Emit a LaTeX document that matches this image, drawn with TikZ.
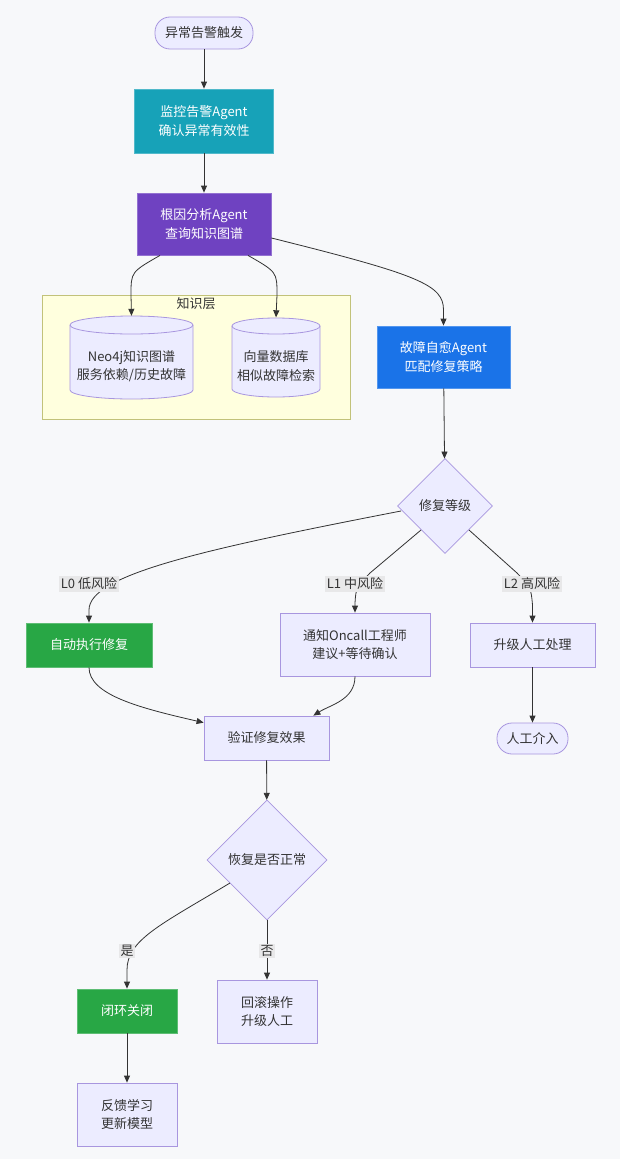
\documentclass[tikz,border=0pt]{standalone}
\usepackage{fontspec}
\setmainfont{Noto Sans CJK SC}
\usetikzlibrary{shapes.geometric,arrows.meta}
\definecolor{bgc}{HTML}{F7F8FA}
\definecolor{nfill}{HTML}{ECECFF}
\definecolor{nstroke}{HTML}{A896DF}
\definecolor{txt}{HTML}{333333}
\definecolor{edgec}{HTML}{333333}
\definecolor{lblbg}{HTML}{E8E8E9}
\definecolor{teal}{HTML}{17A2B8}
\definecolor{purp}{HTML}{6F42C1}
\definecolor{blu}{HTML}{1A73E8}
\definecolor{grn}{HTML}{28A745}
\definecolor{sgfill}{HTML}{FFFFDE}
\definecolor{sgstroke}{HTML}{C2C27A}
\begin{document}
\begin{tikzpicture}[x=1pt,y=1pt,
  every node/.style={font=\fontsize{13}{18.5}\selectfont, text=txt, align=center, inner sep=0pt},
  box/.style={rectangle, draw=nstroke, fill=nfill, line width=0.8pt},
  stadium/.style={rectangle, rounded corners=15pt, draw=nstroke, fill=nfill, line width=0.8pt},
  colbox/.style={rectangle, draw=#1!75!white, fill=#1, text=white, line width=0.8pt},
  decision/.style={diamond, aspect=1, draw=nstroke, fill=nfill, line width=0.8pt},
  textonly/.style={rectangle, draw=none},
  flow/.style={draw=edgec, line width=0.8pt, -{Triangle[length=7pt,width=6pt]}},
  lbl/.style={fill=lblbg, inner xsep=1.5pt, inner ysep=1.5pt},
  cylfill/.style={fill=nfill, draw=nstroke, line width=0.8pt}
]
\fill[bgc] (0,0) rectangle (620,-1159);
\useasboundingbox (0,0) rectangle (620,-1159);

% subgraph
\filldraw[fill=sgfill, draw=sgstroke, line width=0.8pt] (42.5,-295) rectangle (350,-419);
\node (sglabel) at (196,-304) {知识层};

% cylinders
\filldraw[cylfill] (70,-325) -- (70,-390) arc[start angle=180, end angle=360, x radius=61.5, y radius=9] -- (193,-325) arc[start angle=0, end angle=180, x radius=61.5, y radius=9] -- cycle;
\draw[nstroke, line width=0.8pt] (70,-325) arc[start angle=180, end angle=360, x radius=61.5, y radius=9];
\filldraw[cylfill] (232,-326) -- (232,-389) arc[start angle=180, end angle=360, x radius=44, y radius=8] -- (320,-326) arc[start angle=0, end angle=180, x radius=44, y radius=8] -- cycle;
\draw[nstroke, line width=0.8pt] (232,-326) arc[start angle=180, end angle=360, x radius=44, y radius=8];
\node[textonly, minimum width=123pt, minimum height=83pt] (neo) at (131.5,-357.5) {};
\node at (131.5,-366) {Neo4j知识图谱\\服务依赖/历史故障};
\node[textonly, minimum width=88pt, minimum height=80pt] (vec) at (276,-357.5) {};
\node at (276,-366) {向量数据库\\相似故障检索};

% nodes
\node[stadium, minimum width=98pt, minimum height=32pt] (start) at (204,-33) {异常告警触发};
\node[colbox=teal, minimum width=139pt, minimum height=64pt] (mon) at (204,-121) {监控告警Agent\\确认异常有效性};
\node[colbox=purp, minimum width=134pt, minimum height=62pt] (rca) at (204,-224) {根因分析Agent\\查询知识图谱};
\node[colbox=blu, minimum width=133pt, minimum height=62pt] (heal) at (443.5,-357) {故障自愈Agent\\匹配修复策略};
\node[decision, minimum width=95pt, minimum height=95pt] (lvl) at (445,-506) {修复等级};
\node[colbox=grn, minimum width=126pt, minimum height=44pt] (auto) at (89,-645) {自动执行修复};
\node[box, minimum width=150pt, minimum height=63pt] (oncall) at (355,-644.5) {通知Oncall工程师\\建议+等待确认};
\node[box, minimum width=125pt, minimum height=44pt] (esc) at (532.5,-645) {升级人工处理};
\node[stadium, minimum width=71pt, minimum height=31pt] (human) at (532.5,-738.5) {人工介入};
\node[box, minimum width=125pt, minimum height=44pt] (verify) at (266.5,-738) {验证修复效果};
\node[decision, minimum width=120pt, minimum height=120pt] (ok) at (267,-860) {恢复是否正常};
\node[colbox=grn, minimum width=100pt, minimum height=44pt] (close) at (127,-1011) {闭环关闭};
\node[box, minimum width=100pt, minimum height=63pt] (rollback) at (267,-1011.5) {回滚操作\\升级人工};
\node[box, minimum width=100pt, minimum height=63pt] (feedback) at (127,-1114.5) {反馈学习\\更新模型};

% edges
\draw[flow] (start) -- (mon);
\draw[flow] (mon) -- (rca);
\draw[flow] ([xshift=-44pt]rca.south) .. controls (131,-272) .. (131,-295) -- (neo.north);
\draw[flow] ([xshift=44pt]rca.south) .. controls (277,-272) .. (277,-295) -- (vec.north);
\draw[flow] ([yshift=-14pt]rca.east) .. controls (420,-275) and (443.5,-285) .. (443.5,-310) -- (heal.north);
\draw[flow] (heal) -- (lvl);
\coordinate (l0s) at (401,-511);
\draw[flow] (l0s) .. controls (200,-550) and (89,-575) .. (89,-610) -- (auto.north);
\coordinate (l1s) at (421,-530);
\draw[flow] (l1s) -- (370,-573) .. controls (356,-588) .. (355,-603) -- (oncall.north);
\coordinate (l2s) at (469,-530);
\draw[flow] (l2s) -- (517,-573) .. controls (531,-588) .. (532.5,-605) -- (esc.north);
\draw[flow] (auto.south) .. controls (89,-695) and (140,-708) .. ([yshift=-7pt]verify.north west);
\draw[flow] (oncall.south) .. controls (355,-700) and (330,-705) .. ([xshift=-16pt]verify.north east);
\draw[flow] (esc) -- (human);
\draw[flow] (verify) -- (ok);
\coordinate (yess) at (230,-883);
\draw[flow] (yess) .. controls (160,-925) and (127,-940) .. (127,-970) -- (close.north);
\draw[flow] (ok.south) -- (rollback.north);
\draw[flow] (close) -- (feedback);

% edge labels
\node[lbl] (t0) at (89,-584) {L0 低风险};
\node[lbl] (t1) at (355,-584) {L1 中风险};
\node[lbl] (t2) at (532,-584) {L2 高风险};
\node[lbl] (tyes) at (127,-951) {是};
\node[lbl] (tno) at (267,-951) {否};
\end{tikzpicture}
\end{document}
